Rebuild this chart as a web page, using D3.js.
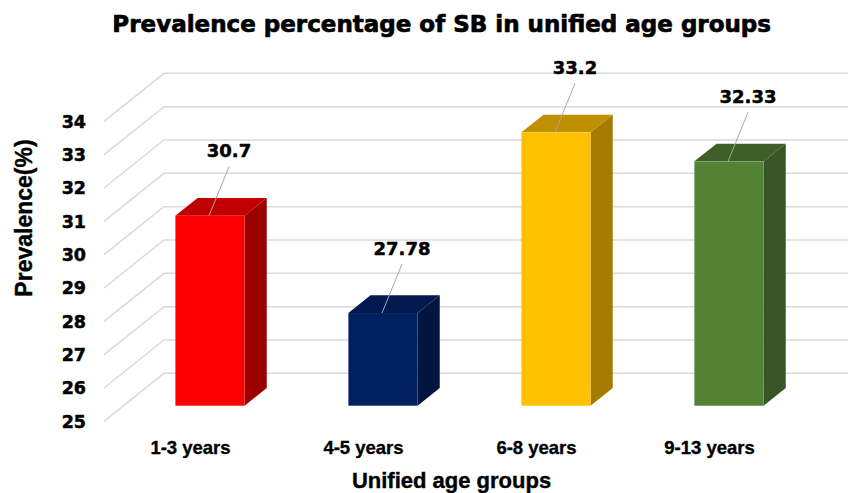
<!DOCTYPE html>
<html>
<head>
<meta charset="utf-8">
<script src="https://cdn.jsdelivr.net/npm/d3@7"></script>
<style>
  html, body { margin: 0; padding: 0; background: #fff; }
  svg { display: block; }
</style>
</head>
<body>
<svg id="chart" width="848" height="493"></svg>
<script>
// Prevalence of SB by unified age group
const categories = ["1-3 years", "4-5 years", "6-8 years", "9-13 years"];
const prevalence = [30.7, 27.78, 33.2, 32.33];
const yTicks = [25, 26, 27, 28, 29, 30, 31, 32, 33, 34];
const frontColors = ["#ff0000", "#002060", "#ffc000", "#548235"];
const topColors   = ["#c00000", "#001a50", "#bf9000", "#3e5f28"];
const sideColors  = ["#9c0000", "#00163f", "#a67c00", "#375623"];

const svg = d3.select("#chart");
const W = 848, H = 493;

// Depth projection: a point at depth z (0 = front plane, 1 = back wall)
// is shifted right and up by z * depth vector.
const DEPTH_X = 60, DEPTH_Y = -48;
const Z_FRONT = 0.325, Z_BACK = 0.694;   // bar depth span

// Front-plane scales
const x = d3.scaleBand()
  .domain(categories)
  .range([104, 796])
  .paddingInner(0.6)
  .paddingOuter(0.3);

const y = d3.scaleLinear()
  .domain([25, 34])
  .range([421.3, 121.3]);

const px = (xf, z) => xf + z * DEPTH_X;
const py = (yf, z) => yf + z * DEPTH_Y;

// Back-wall gridlines plus the diagonal side-wall lines
const grid = svg.append("g").attr("class", "grid")
  .attr("stroke", "#d9d9d9").attr("stroke-width", 1.5).attr("fill", "none");

grid.selectAll("path.gl")
  .data(yTicks)
  .join("path")
  .attr("class", "gl")
  .attr("d", v => {
    const p = d3.path();
    p.moveTo(px(104, 0), py(y(v), 0));
    p.lineTo(px(104, 1), py(y(v), 1));
    p.lineTo(W + 10, py(y(v), 1));
    return p.toString();
  });

// Heavy bold text helper
function heavy(sel, family, size, stroke) {
  return sel
    .attr("font-family", family)
    .attr("font-weight", "bold")
    .attr("font-size", size)
    .attr("fill", "#000")
    .attr("stroke", "#000")
    .attr("stroke-width", stroke)
    .attr("stroke-linejoin", "round");
}

// Y tick labels on the front plane
heavy(svg.append("g").selectAll("text")
  .data(yTicks)
  .join("text")
  .attr("x", 86)
  .attr("y", v => y(v))
  .attr("dy", "0.36em")
  .attr("text-anchor", "end"), "DejaVu Sans, sans-serif", 17.5, 0.5)
  .text(d => d);

// 3D bars
const bars = svg.append("g").attr("class", "bars");
const rows = categories.map((c, i) => ({ c, v: prevalence[i], i }));

const bw = x.bandwidth();
const g = bars.selectAll("g.bar").data(rows).join("g").attr("class", "bar");

// side face
g.append("path")
  .attr("fill", d => sideColors[d.i])
  .attr("d", d => {
    const xr = x(d.c) + bw;
    const y0 = y(25), y1 = y(d.v);
    return d3.line()([
      [px(xr, Z_FRONT), py(y0, Z_FRONT)],
      [px(xr, Z_BACK),  py(y0, Z_BACK)],
      [px(xr, Z_BACK),  py(y1, Z_BACK)],
      [px(xr, Z_FRONT), py(y1, Z_FRONT)]
    ]) + "Z";
  });

// top face
g.append("path")
  .attr("fill", d => topColors[d.i])
  .attr("d", d => {
    const xl = x(d.c), xr = xl + bw;
    const y1 = y(d.v);
    return d3.line()([
      [px(xl, Z_FRONT), py(y1, Z_FRONT)],
      [px(xl, Z_BACK),  py(y1, Z_BACK)],
      [px(xr, Z_BACK),  py(y1, Z_BACK)],
      [px(xr, Z_FRONT), py(y1, Z_FRONT)]
    ]) + "Z";
  });

// front face
g.append("rect")
  .attr("fill", d => frontColors[d.i])
  .attr("x", d => px(x(d.c), Z_FRONT))
  .attr("y", d => py(y(d.v), Z_FRONT))
  .attr("width", bw)
  .attr("height", d => y(25) - y(d.v));

// Data labels with leader lines
const LABEL_DX = 19, LABEL_DY = -65;
const labels = svg.append("g").attr("class", "labels");
rows.forEach(d => {
  const cx = px(x(d.c) + bw / 2, Z_FRONT);
  const top = py(y(d.v), Z_FRONT);
  const lx = cx + LABEL_DX, ly = top + LABEL_DY;
  labels.append("line")
    .attr("x1", lx).attr("y1", ly + 16)
    .attr("x2", cx - 1).attr("y2", top)
    .attr("stroke", "#a6a6a6").attr("stroke-width", 1);
  heavy(labels.append("text")
    .attr("x", lx).attr("y", ly)
    .attr("dy", "0.36em")
    .attr("text-anchor", "middle"), "DejaVu Sans, sans-serif", 18, 0.5)
    .text(d.v);
});

// Category labels on the front plane
heavy(svg.append("g").selectAll("text")
  .data(categories)
  .join("text")
  .attr("x", c => x(c) + bw / 2)
  .attr("y", 454)
  .attr("text-anchor", "middle"), "Liberation Sans, Arial, sans-serif", 18.5, 0.35)
  .text(c => c);

// Title
heavy(svg.append("text")
  .attr("x", 441.7).attr("y", 32)
  .attr("text-anchor", "middle"), "DejaVu Sans, sans-serif", 23, 0.7)
  .text("Prevalence percentage of SB in unified age groups");

// Axis titles
heavy(svg.append("text")
  .attr("x", 451.5).attr("y", 488)
  .attr("text-anchor", "middle"), "Liberation Sans, Arial, sans-serif", 22, 0.4)
  .text("Unified age groups");

heavy(svg.append("text")
  .attr("transform", "translate(32,218) rotate(-90)")
  .attr("text-anchor", "middle"), "Liberation Sans, Arial, sans-serif", 23, 0.4)
  .text("Prevalence(%)");
</script>
</body>
</html>
